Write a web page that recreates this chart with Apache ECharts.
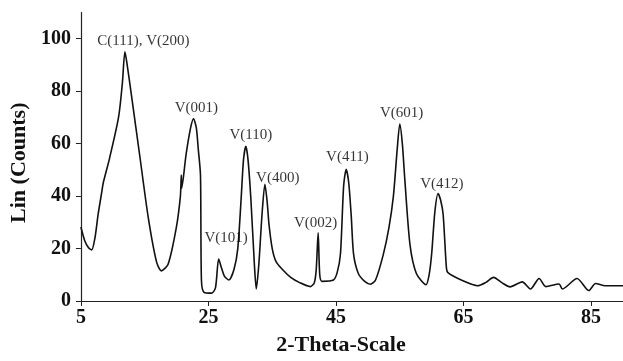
<!DOCTYPE html>
<html>
<head>
<meta charset="utf-8">
<script src="https://cdn.jsdelivr.net/npm/echarts@6/dist/echarts.min.js"></script>
<style>html,body{margin:0;padding:0;background:#fff;}#c{width:623px;height:361px;}</style>
</head>
<body>
<div id="c"></div>
<script>
const thetaX = [5, 5.6, 6.2, 6.7, 7.2, 7.7, 8.3, 8.5, 9.5, 10.9, 11.5, 11.9, 12.2, 12.95, 14.25, 15.55, 16.85, 17.6, 18.67, 19.96, 20.6, 20.74, 20.8, 21.5, 22.2, 22.66, 23.1, 23.4, 23.75, 23.9, 24.3, 25.5, 26.1, 26.6, 27.0, 27.5, 28.2, 29.0, 29.6, 30.1, 30.5, 30.87, 31.2, 31.65, 32.2, 32.5, 32.9, 33.4, 33.85, 34.2, 34.5, 35.0, 35.6, 36.6, 37.9, 39.3, 41.0, 41.6, 41.9, 42.2, 42.45, 42.8, 44.6, 45.2, 45.7, 46.2, 46.6, 47.0, 47.4, 47.75, 48.5, 49.5, 50.4, 51.2, 52.4, 53.3, 54.0, 54.6, 55.0, 55.4, 55.8, 56.6, 57.6, 59.1, 59.6, 60.0, 60.5, 61.0, 61.4, 61.8, 62.3, 62.55, 64.9, 67.2, 68.5, 69.7, 71, 72.3, 74.2, 75.5, 76.85, 77.9, 79.97, 80.5, 82.8, 84.65, 85.7, 87.2, 90];
const counts = [28.2, 23, 20.3, 19.5, 24, 33, 42, 45, 54.5, 70, 83, 95, 91, 78, 55, 32, 15, 11.5, 14, 28, 40, 48, 43, 56, 66, 69.5, 66, 58, 48, 8, 3.3, 3.0, 5, 16, 13, 9.5, 8, 12, 20, 38, 54, 59, 54, 39, 14, 4.6, 14, 33, 44.5, 38, 29, 20, 15, 12, 9, 7, 5.5, 7, 12, 26, 10, 7.5, 8, 11, 18, 44, 50.2, 45, 32, 18, 10.5, 7.5, 6.4, 8, 17.6, 28, 40, 58, 67.5, 60, 46, 21.5, 10.5, 6.2, 10, 18, 34, 41, 38.5, 33, 13, 10.8, 7.7, 5.8, 7.1, 9, 7, 5.4, 7.3, 4.6, 8.6, 5.5, 6.5, 4.6, 8.6, 4, 6.7, 5.8, 5.8];
const peakLabels = ['C(111), V(200)', 'V(001)', 'V(110)', 'V(400)', 'V(101)', 'V(002)', 'V(411)', 'V(601)', 'V(412)'];
const peakLabelX = [14.8, 23.1, 31.65, 35.86, 27.76, 41.8, 46.8, 55.3, 61.6];
const peakLabelY = [99, 73.6, 63.2, 46.8, 24, 29.6, 55, 71.8, 44.5];
const xTicks = [5, 25, 45, 65, 85];
const yTicks = [0, 20, 40, 60, 80, 100];

const chart = echarts.init(document.getElementById('c'), null, {renderer: 'canvas'});
const serif = 'Liberation Serif, Times New Roman, serif';
chart.setOption({
  animation: false,
  backgroundColor: '#fff',
  grid: {left: 79, top: 12.5, width: 545, height: 295},
  xAxis: {
    type: 'value', min: 5, max: 90,
    name: '2-Theta-Scale', nameLocation: 'middle', nameGap: 33,
    nameTextStyle: {fontFamily: serif, fontWeight: 'bold', fontSize: 22, color: '#111', padding: [0, 22, 0, 0]},
    axisLine: {show: true, lineStyle: {color: '#222', width: 1.2}},
    axisTick: {show: true, length: 5, customValues: xTicks, lineStyle: {color: '#222'}},
    axisLabel: {customValues: xTicks, fontFamily: serif, fontWeight: 'bold', fontSize: 20, color: '#111', margin: 7},
    splitLine: {show: false}
  },
  yAxis: {
    type: 'value', min: 0, max: 110,
    name: 'Lin (Counts)', nameLocation: 'middle', nameGap: 46, nameRotate: 90,
    nameTextStyle: {fontFamily: serif, fontWeight: 'bold', fontSize: 22, color: '#111', padding: [0, 12, 0, 0]},
    axisLine: {show: true, lineStyle: {color: '#222', width: 1.2}},
    axisTick: {show: true, length: 5, customValues: yTicks, lineStyle: {color: '#222'}},
    axisLabel: {customValues: yTicks, fontFamily: serif, fontWeight: 'bold', fontSize: 20, color: '#111', margin: 10},
    splitLine: {show: false}
  },
  series: [
    {
      type: 'line',
      data: thetaX.map((x, i) => [x, counts[i]]),
      showSymbol: false,
      smooth: 0.25,
      lineStyle: {color: '#111', width: 1.6},
      z: 2
    },
    {
      type: 'scatter',
      data: peakLabelX.map((x, i) => ({value: [x, peakLabelY[i]], name: peakLabels[i]})),
      symbolSize: 0,
      label: {show: true, position: 'inside', formatter: p => p.name, fontFamily: serif, fontSize: 15, color: '#000'},
      z: 3
    }
  ]
});
</script>
</body>
</html>
